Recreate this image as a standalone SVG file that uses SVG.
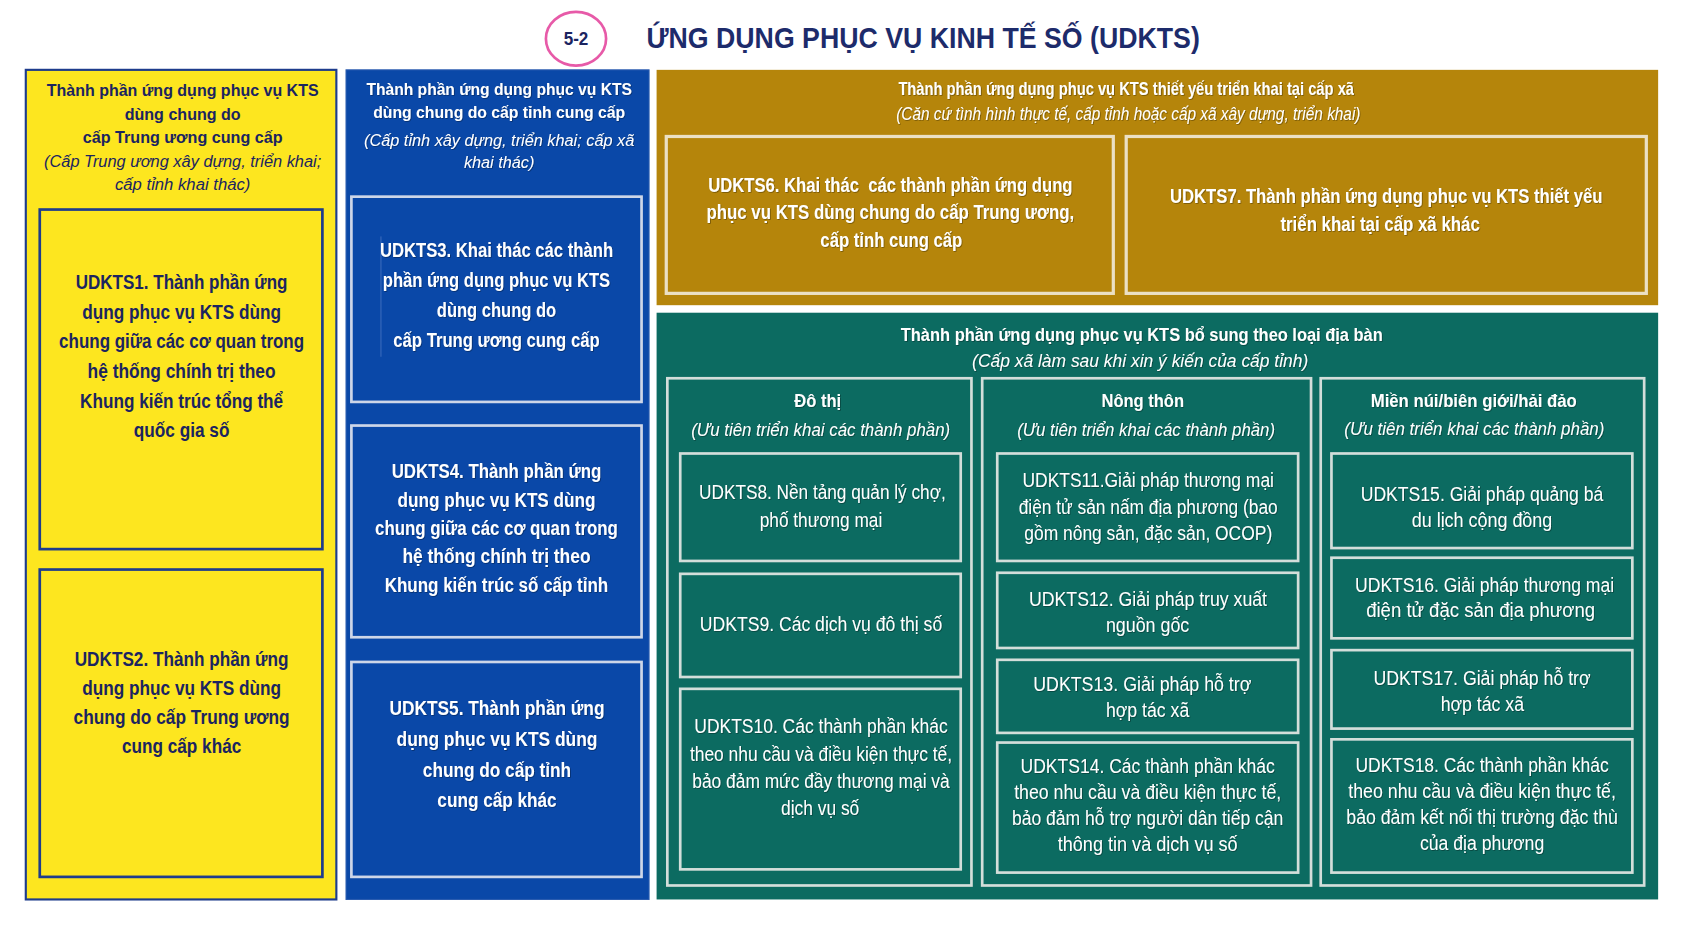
<svg xmlns="http://www.w3.org/2000/svg" width="1685" height="934" viewBox="0 0 1685 934">
<defs>
<style>
.t{font-family:"Liberation Sans",Arial,"DejaVu Sans",sans-serif;text-anchor:middle}
.b{font-weight:700}
.i{font-style:italic}
.nv{fill:#1b2460}
.wt{fill:#ffffff}
.yb{fill:#fde61f;stroke:#1e3c8c;stroke-width:2}
.ybox{fill:none;stroke:#1e3c8c;stroke-width:2.5}
.bl{fill:#0a48a8;stroke:#2a5cb0;stroke-width:1}
.blbox{fill:none;stroke:#cdd6e8;stroke-width:2.5}
.gd{fill:#b5850b}
.gdbox{fill:none;stroke:#ebe0c4;stroke-width:3}
.tl{fill:#0c6b61}
.tlbox{fill:none;stroke:#d3deda;stroke-width:2.5}
.sh{filter:url(#sh)}
</style>
<filter id="sh" x="-5%" y="-20%" width="110%" height="140%">
<feDropShadow dx="0.7" dy="0.7" stdDeviation="0.7" flood-color="#000" flood-opacity="0.4"/>
</filter>
</defs>
<rect x="0" y="0" width="1685" height="934" fill="#ffffff"/>
<g transform="scale(1.07462)">

<g id="title">
<ellipse cx="536" cy="36" rx="28" ry="25" fill="#ffffff" stroke="#e75aa8" stroke-width="2.5"/>
<text class="t b nv" x="536" y="42" font-size="17" textLength="23" lengthAdjust="spacingAndGlyphs">5-2</text>
<text class="t b" x="859" y="44.5" font-size="28" fill="#1d2b6b" textLength="515" lengthAdjust="spacingAndGlyphs">ỨNG DỤNG PHỤC VỤ KINH TẾ SỐ (UDKTS)</text>
</g>

<g id="panel-central">
<rect class="yb" x="24" y="65" width="289" height="772"/>
<text class="t b nv" x="170" y="89.5" font-size="15.5" textLength="253" lengthAdjust="spacingAndGlyphs">Thành phần ứng dụng phục vụ KTS</text>
<text class="t b nv" x="170" y="111.5" font-size="15.5" textLength="108" lengthAdjust="spacingAndGlyphs">dùng chung do</text>
<text class="t b nv" x="170" y="133" font-size="15.5" textLength="186" lengthAdjust="spacingAndGlyphs">cấp Trung ương cung cấp</text>
<text class="t i nv" x="170" y="155.5" font-size="15.5" textLength="258" lengthAdjust="spacingAndGlyphs">(Cấp Trung ương xây dựng, triển khai;</text>
<text class="t i nv" x="170" y="177" font-size="15.5" textLength="126" lengthAdjust="spacingAndGlyphs">cấp tỉnh khai thác)</text>
</g>

<g id="UDKTS1">
<rect class="ybox" x="37" y="195" width="263" height="316"/>
<text class="t b nv" x="169" y="269" font-size="18" textLength="197" lengthAdjust="spacingAndGlyphs">UDKTS1. Thành phần ứng</text>
<text class="t b nv" x="169" y="296.6" font-size="18" textLength="185" lengthAdjust="spacingAndGlyphs">dụng phục vụ KTS dùng</text>
<text class="t b nv" x="169" y="324.2" font-size="18" textLength="228" lengthAdjust="spacingAndGlyphs">chung giữa các cơ quan trong</text>
<text class="t b nv" x="169" y="351.8" font-size="18" textLength="175" lengthAdjust="spacingAndGlyphs">hệ thống chính trị theo</text>
<text class="t b nv" x="169" y="379.4" font-size="18" textLength="189" lengthAdjust="spacingAndGlyphs">Khung kiến trúc tổng thể</text>
<text class="t b nv" x="169" y="407" font-size="18" textLength="89" lengthAdjust="spacingAndGlyphs">quốc gia số</text>
</g>

<g id="UDKTS2">
<rect class="ybox" x="37" y="530" width="263" height="286"/>
<text class="t b nv" x="169" y="620" font-size="18" textLength="199" lengthAdjust="spacingAndGlyphs">UDKTS2. Thành phần ứng</text>
<text class="t b nv" x="169" y="647" font-size="18" textLength="185" lengthAdjust="spacingAndGlyphs">dụng phục vụ KTS dùng</text>
<text class="t b nv" x="169" y="674" font-size="18" textLength="201" lengthAdjust="spacingAndGlyphs">chung do cấp Trung ương</text>
<text class="t b nv" x="169" y="700.5" font-size="18" textLength="111" lengthAdjust="spacingAndGlyphs">cung cấp khác</text>
</g>

<g id="panel-province">
<rect class="bl" x="322" y="65" width="282" height="772"/>
<g class="sh">
<text class="t b wt" x="464.5" y="88.4" font-size="15.5" textLength="247" lengthAdjust="spacingAndGlyphs">Thành phần ứng dụng phục vụ KTS</text>
<text class="t b wt" x="464.5" y="110" font-size="15.5" textLength="234.5" lengthAdjust="spacingAndGlyphs">dùng chung do cấp tỉnh cung cấp</text>
<text class="t i wt" x="464.5" y="135.6" font-size="15.5" textLength="251.5" lengthAdjust="spacingAndGlyphs">(Cấp tỉnh xây dựng, triển khai; cấp xã</text>
<text class="t i wt" x="464.5" y="156.6" font-size="15.5" textLength="65.6" lengthAdjust="spacingAndGlyphs">khai thác)</text>
</g>
</g>

<g id="UDKTS3">
<rect class="blbox" x="327" y="183" width="270" height="191"/>
<line x1="354.5" y1="220" x2="354.5" y2="332" stroke="#6d8fd0" stroke-width="0.8" opacity="0.6"/>
<g class="sh">
<text class="t b wt" x="462" y="239.5" font-size="18" textLength="217" lengthAdjust="spacingAndGlyphs">UDKTS3. Khai thác các thành</text>
<text class="t b wt" x="462" y="267.4" font-size="18" textLength="211.5" lengthAdjust="spacingAndGlyphs">phần ứng dụng phục vụ KTS</text>
<text class="t b wt" x="462" y="295.3" font-size="18" textLength="111" lengthAdjust="spacingAndGlyphs">dùng chung do</text>
<text class="t b wt" x="462" y="323.2" font-size="18" textLength="192" lengthAdjust="spacingAndGlyphs">cấp Trung ương cung cấp</text>
</g>
</g>

<g id="UDKTS4">
<rect class="blbox" x="327" y="396" width="270" height="197"/>
<g class="sh">
<text class="t b wt" x="462" y="445.1" font-size="18" textLength="195" lengthAdjust="spacingAndGlyphs">UDKTS4. Thành phần ứng</text>
<text class="t b wt" x="462" y="471.5" font-size="18" textLength="184" lengthAdjust="spacingAndGlyphs">dụng phục vụ KTS dùng</text>
<text class="t b wt" x="462" y="497.9" font-size="18" textLength="226" lengthAdjust="spacingAndGlyphs">chung giữa các cơ quan trong</text>
<text class="t b wt" x="462" y="524.3" font-size="18" textLength="175" lengthAdjust="spacingAndGlyphs">hệ thống chính trị theo</text>
<text class="t b wt" x="462" y="550.7" font-size="18" textLength="208" lengthAdjust="spacingAndGlyphs">Khung kiến trúc số cấp tỉnh</text>
</g>
</g>

<g id="UDKTS5">
<rect class="blbox" x="327" y="616" width="270" height="200"/>
<g class="sh">
<text class="t b wt" x="462.5" y="665.4" font-size="18" textLength="200" lengthAdjust="spacingAndGlyphs">UDKTS5. Thành phần ứng</text>
<text class="t b wt" x="462.5" y="694.3" font-size="18" textLength="187" lengthAdjust="spacingAndGlyphs">dụng phục vụ KTS dùng</text>
<text class="t b wt" x="462.5" y="723.1" font-size="18" textLength="138" lengthAdjust="spacingAndGlyphs">chung do cấp tỉnh</text>
<text class="t b wt" x="462.5" y="751.3" font-size="18" textLength="111" lengthAdjust="spacingAndGlyphs">cung cấp khác</text>
</g>
</g>

<g id="panel-commune">
<rect class="gd" x="611" y="65" width="932" height="219"/>
<g class="sh">
<text class="t b wt" x="1048" y="88.4" font-size="16.5" textLength="424" lengthAdjust="spacingAndGlyphs">Thành phần ứng dụng phục vụ KTS thiết yếu triển khai tại cấp xã</text>
<text class="t i wt" x="1050" y="112" font-size="16.5" textLength="432" lengthAdjust="spacingAndGlyphs">(Căn cứ tình hình thực tế, cấp tỉnh hoặc cấp xã xây dựng, triển khai)</text>
</g>
</g>

<g id="UDKTS6">
<rect class="gdbox" x="620" y="127" width="416" height="146"/>
<g class="sh">
<text class="t b wt" x="828.5" y="178.4" font-size="18" textLength="339" lengthAdjust="spacingAndGlyphs" xml:space="preserve">UDKTS6. Khai thác  các thành phần ứng dụng</text>
<text class="t b wt" x="828.5" y="204.1" font-size="18" textLength="342" lengthAdjust="spacingAndGlyphs">phục vụ KTS dùng chung do cấp Trung ương,</text>
<text class="t b wt" x="829.4" y="230.2" font-size="18" textLength="132" lengthAdjust="spacingAndGlyphs">cấp tỉnh cung cấp</text>
</g>
</g>

<g id="UDKTS7">
<rect class="gdbox" x="1048" y="127" width="484" height="146"/>
<g class="sh">
<text class="t b wt" x="1290" y="189.2" font-size="18" textLength="402.5" lengthAdjust="spacingAndGlyphs">UDKTS7. Thành phần ứng dụng phục vụ KTS thiết yếu</text>
<text class="t b wt" x="1284.3" y="215" font-size="18" textLength="185.5" lengthAdjust="spacingAndGlyphs">triển khai tại cấp xã khác</text>
</g>
</g>

<g id="panel-area">
<rect class="tl" x="611" y="291" width="932" height="546"/>
<g class="sh">
<text class="t b wt" x="1062.5" y="317" font-size="17" textLength="448.5" lengthAdjust="spacingAndGlyphs">Thành phần ứng dụng phục vụ KTS bổ sung theo loại địa bàn</text>
<text class="t i wt" x="1061" y="341.2" font-size="17" textLength="312.8" lengthAdjust="spacingAndGlyphs">(Cấp xã làm sau khi xin ý kiến của cấp tỉnh)</text>
</g>
</g>

<g id="col-urban">
<rect class="tlbox" x="621" y="352" width="283" height="472"/>
<g class="sh">
<text class="t b wt" x="761" y="379" font-size="17" textLength="43.6" lengthAdjust="spacingAndGlyphs">Đô thị</text>
<text class="t i wt" x="763.7" y="405.7" font-size="17" textLength="241" lengthAdjust="spacingAndGlyphs">(Ưu tiên triển khai các thành phần)</text>
</g>
</g>

<g id="col-rural">
<rect class="tlbox" x="914" y="352" width="306" height="472"/>
<g class="sh">
<text class="t b wt" x="1063.4" y="379" font-size="17" textLength="76.8" lengthAdjust="spacingAndGlyphs">Nông thôn</text>
<text class="t i wt" x="1066.5" y="405.7" font-size="17" textLength="240" lengthAdjust="spacingAndGlyphs">(Ưu tiên triển khai các thành phần)</text>
</g>
</g>

<g id="col-mountain">
<rect class="tlbox" x="1229" y="352" width="301" height="472"/>
<g class="sh">
<text class="t b wt" x="1371.4" y="378.6" font-size="17" textLength="191.7" lengthAdjust="spacingAndGlyphs">Miền núi/biên giới/hải đảo</text>
<text class="t i wt" x="1372" y="405" font-size="17" textLength="242" lengthAdjust="spacingAndGlyphs">(Ưu tiên triển khai các thành phần)</text>
</g>
</g>

<g id="UDKTS8">
<rect class="tlbox" x="633" y="422" width="261" height="100"/>
<g class="sh">
<text class="t wt" x="765.3" y="464.6" font-size="19" textLength="229.5" lengthAdjust="spacingAndGlyphs">UDKTS8. Nền tảng quản lý chợ,</text>
<text class="t wt" x="764" y="490.7" font-size="19" textLength="114" lengthAdjust="spacingAndGlyphs">phố thương mại</text>
</g>
</g>

<g id="UDKTS9">
<rect class="tlbox" x="633" y="534" width="261" height="96"/>
<g class="sh">
<text class="t wt" x="764" y="587" font-size="19" textLength="225.5" lengthAdjust="spacingAndGlyphs">UDKTS9. Các dịch vụ đô thị số</text>
</g>
</g>

<g id="UDKTS10">
<rect class="tlbox" x="633" y="641" width="261" height="168"/>
<g class="sh">
<text class="t wt" x="764" y="682.4" font-size="19" textLength="235.8" lengthAdjust="spacingAndGlyphs">UDKTS10. Các thành phần khác</text>
<text class="t wt" x="764" y="708" font-size="19" textLength="244" lengthAdjust="spacingAndGlyphs">theo nhu cầu và điều kiện thực tế,</text>
<text class="t wt" x="764" y="733.4" font-size="19" textLength="239.5" lengthAdjust="spacingAndGlyphs">bảo đảm mức đầy thương mại và</text>
<text class="t wt" x="763.2" y="758.4" font-size="19" textLength="72.8" lengthAdjust="spacingAndGlyphs">dịch vụ số</text>
</g>
</g>

<g id="UDKTS11">
<rect class="tlbox" x="928" y="422" width="280" height="100"/>
<g class="sh">
<text class="t wt" x="1068.5" y="452.9" font-size="19" textLength="234" lengthAdjust="spacingAndGlyphs">UDKTS11.Giải pháp thương mại</text>
<text class="t wt" x="1068.5" y="478.3" font-size="19" textLength="241" lengthAdjust="spacingAndGlyphs">điện tử sản nấm địa phương (bao</text>
<text class="t wt" x="1068.5" y="502.5" font-size="19" textLength="230.7" lengthAdjust="spacingAndGlyphs">gồm nông sản, đặc sản, OCOP)</text>
</g>
</g>

<g id="UDKTS12">
<rect class="tlbox" x="928" y="533" width="280" height="70"/>
<g class="sh">
<text class="t wt" x="1068.3" y="564" font-size="19" textLength="221.5" lengthAdjust="spacingAndGlyphs">UDKTS12. Giải pháp truy xuất</text>
<text class="t wt" x="1067.9" y="587.8" font-size="19" textLength="77.5" lengthAdjust="spacingAndGlyphs">nguồn gốc</text>
</g>
</g>

<g id="UDKTS13">
<rect class="tlbox" x="928" y="614" width="280" height="68"/>
<g class="sh">
<text class="t wt" x="1063" y="642.7" font-size="19" textLength="203" lengthAdjust="spacingAndGlyphs">UDKTS13. Giải pháp hỗ trợ</text>
<text class="t wt" x="1067.9" y="666.9" font-size="19" textLength="77.5" lengthAdjust="spacingAndGlyphs">hợp tác xã</text>
</g>
</g>

<g id="UDKTS14">
<rect class="tlbox" x="928" y="691" width="280" height="121"/>
<g class="sh">
<text class="t wt" x="1068" y="719.7" font-size="19" textLength="236.6" lengthAdjust="spacingAndGlyphs">UDKTS14. Các thành phần khác</text>
<text class="t wt" x="1068" y="743.7" font-size="19" textLength="248.5" lengthAdjust="spacingAndGlyphs">theo nhu cầu và điều kiện thực tế,</text>
<text class="t wt" x="1068" y="767.7" font-size="19" textLength="252.5" lengthAdjust="spacingAndGlyphs">bảo đảm hỗ trợ người dân tiếp cận</text>
<text class="t wt" x="1068" y="791.7" font-size="19" textLength="167.4" lengthAdjust="spacingAndGlyphs">thông tin và dịch vụ số</text>
</g>
</g>

<g id="UDKTS15">
<rect class="tlbox" x="1239" y="422" width="280" height="88"/>
<g class="sh">
<text class="t wt" x="1379.1" y="466" font-size="19" textLength="225.8" lengthAdjust="spacingAndGlyphs">UDKTS15. Giải pháp quảng bá</text>
<text class="t wt" x="1379.1" y="490.5" font-size="19" textLength="130.8" lengthAdjust="spacingAndGlyphs">du lịch cộng đồng</text>
</g>
</g>

<g id="UDKTS16">
<rect class="tlbox" x="1239" y="519" width="280" height="75"/>
<g class="sh">
<text class="t wt" x="1381.5" y="550.6" font-size="19" textLength="241" lengthAdjust="spacingAndGlyphs">UDKTS16. Giải pháp thương mại</text>
<text class="t wt" x="1377.8" y="573.9" font-size="19" textLength="213" lengthAdjust="spacingAndGlyphs">điện tử đặc sản địa phương</text>
</g>
</g>

<g id="UDKTS17">
<rect class="tlbox" x="1239" y="605" width="280" height="73"/>
<g class="sh">
<text class="t wt" x="1379.1" y="637.4" font-size="19" textLength="202" lengthAdjust="spacingAndGlyphs">UDKTS17. Giải pháp hỗ trợ</text>
<text class="t wt" x="1379.4" y="661.3" font-size="19" textLength="77.6" lengthAdjust="spacingAndGlyphs">hợp tác xã</text>
</g>
</g>

<g id="UDKTS18">
<rect class="tlbox" x="1239" y="688" width="280" height="124"/>
<g class="sh">
<text class="t wt" x="1379.2" y="718.1" font-size="19" textLength="235.6" lengthAdjust="spacingAndGlyphs">UDKTS18. Các thành phần khác</text>
<text class="t wt" x="1379.2" y="742.9" font-size="19" textLength="249" lengthAdjust="spacingAndGlyphs">theo nhu cầu và điều kiện thực tế,</text>
<text class="t wt" x="1379.2" y="766.8" font-size="19" textLength="252.8" lengthAdjust="spacingAndGlyphs">bảo đảm kết nối thị trường đặc thù</text>
<text class="t wt" x="1379.2" y="791" font-size="19" textLength="115.6" lengthAdjust="spacingAndGlyphs">của địa phương</text>
</g>
</g>

<g id="connectors"></g>
</g>
</svg>
